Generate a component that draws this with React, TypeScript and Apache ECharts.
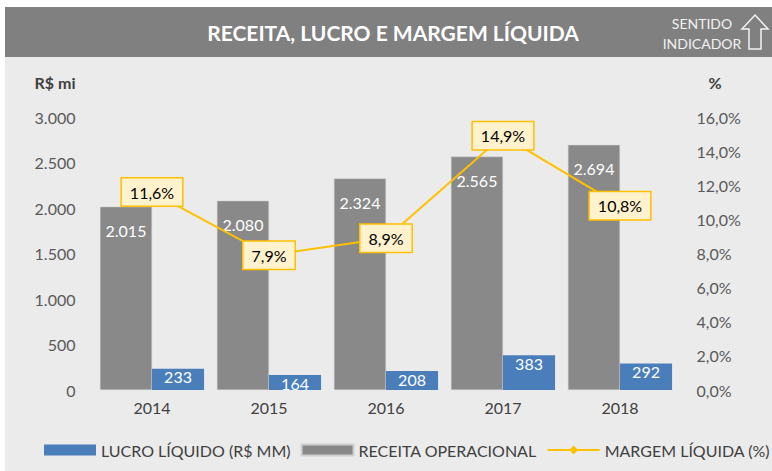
import React, { useEffect, useRef } from "react";
import * as echarts from "echarts";

const years = ["2014", "2015", "2016", "2017", "2018"];
const lucro = [233, 164, 208, 383, 292];
const receita = [2015, 2080, 2324, 2565, 2694];
const margem = [11.6, 7.9, 8.9, 14.9, 10.8];

const FONT = "Lato, 'Open Sans', sans-serif";
const fmtThousands = (v: number) => String(v).replace(/\B(?=(\d{3})+(?!\d))/g, ".");
const fmtPct = (v: number) => v.toFixed(1).replace(".", ",") + "%";

export default function App() {
  const ref = useRef<HTMLDivElement>(null);
  useEffect(() => {
    document.body.style.margin = "0";
    const chart = echarts.init(ref.current!, null, { renderer: "svg" });
    chart.setOption({
      animation: false,
      backgroundColor: "#ffffff",
      textStyle: { fontFamily: FONT },
      graphic: [
        { type: "rect", z: -10, shape: { x: 5, y: 7, width: 767, height: 464 }, style: { fill: "#ebebeb" }, silent: true },
        { type: "rect", z: -5, shape: { x: 5, y: 7, width: 767, height: 50 }, style: { fill: "#808080" }, silent: true },
        { type: "text", x: 393, y: 32, style: { text: "RECEITA, LUCRO E MARGEM LÍQUIDA", fill: "#ffffff", font: `bold 21px ${FONT}`, align: "center", verticalAlign: "middle" } },
        { type: "text", x: 702, y: 23, style: { text: "SENTIDO", fill: "#f2f2f2", font: `14px ${FONT}`, align: "center", verticalAlign: "middle" } },
        { type: "text", x: 702, y: 43, style: { text: "INDICADOR", fill: "#f2f2f2", font: `14px ${FONT}`, align: "center", verticalAlign: "middle" } },
        {
          type: "polygon",
          shape: { points: [[755, 15], [768, 29], [761, 29], [761, 49], [749, 49], [749, 29], [742, 29]] },
          style: { fill: "none", stroke: "#f2f2f2", lineWidth: 1.5 },
        },
        { type: "text", x: 55, y: 82, style: { text: "R$ mi", fill: "#404040", font: `bold 16px ${FONT}`, align: "center", verticalAlign: "middle" } },
        { type: "text", x: 715, y: 82, style: { text: "%", fill: "#404040", font: `bold 16px ${FONT}`, align: "center", verticalAlign: "middle" } },
      ],
      grid: { left: 93.5, right: 93.5, top: 117, bottom: 81 },
      legend: {
        bottom: 8,
        left: 39,
        width: 733,
        data: [
          { name: "LUCRO LÍQUIDO (R$ MM)", icon: "rect" },
          { name: "RECEITA OPERACIONAL", icon: "rect" },
          { name: "MARGEM LÍQUIDA (%)" },
        ],
        itemWidth: 52,
        itemHeight: 11,
        itemGap: 10,
        textStyle: { color: "#404040", fontSize: 16, fontFamily: FONT },
      },
      xAxis: {
        type: "category",
        data: years,
        axisLine: { show: false },
        axisTick: { show: false },
        axisLabel: { color: "#404040", fontSize: 16, margin: 9 },
      },
      yAxis: [
        {
          type: "value",
          min: 0,
          max: 3000,
          interval: 500,
          splitLine: { show: false },
          axisLabel: { color: "#595959", fontSize: 16, margin: 18, formatter: fmtThousands },
        },
        {
          type: "value",
          min: 0,
          max: 16,
          interval: 2,
          splitLine: { show: false },
          axisLabel: { color: "#595959", fontSize: 16, margin: 18, formatter: fmtPct },
        },
      ],
      series: [
        {
          name: "RECEITA OPERACIONAL",
          type: "bar",
          data: receita,
          barGap: "0%",
          barCategoryGap: "11%",
          itemStyle: { color: "#898989", borderColor: "#cfcfcf", borderWidth: 0.5 },
          label: { show: true, position: "insideTop", distance: 16, color: "#ffffff", fontSize: 16, formatter: (p: any) => fmtThousands(p.value) },
        },
        {
          name: "LUCRO LÍQUIDO (R$ MM)",
          type: "bar",
          data: lucro,
          itemStyle: { color: "#4a7ebb" },
          label: { show: true, position: "insideTop", distance: 0, color: "#ffffff", fontSize: 16 },
        },
        {
          name: "MARGEM LÍQUIDA (%)",
          type: "line",
          yAxisIndex: 1,
          data: margem,
          symbol: "diamond",
          symbolSize: 9,
          z: 5,
          lineStyle: { color: "#ffc000", width: 2 },
          itemStyle: { color: "#ffc000" },
          label: {
            show: true,
            position: "inside",
            color: "#000000",
            fontSize: 16,
            backgroundColor: "#fff2cc",
            borderColor: "#ffc000",
            borderWidth: 1.5,
            padding: [6, 8, 5, 8],
            formatter: (p: any) => fmtPct(p.value),
          },
        },
      ],
    });
    return () => chart.dispose();
  }, []);
  return <div ref={ref} style={{ width: 772, height: 471 }} />;
}
